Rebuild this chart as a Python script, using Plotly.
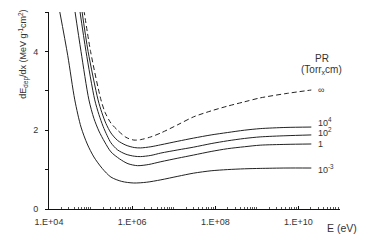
import plotly.graph_objects as go

# log10(E / eV) and dE/dx (MeV g^-1 cm^2)
logE_m3 = [4.26, 4.45, 4.62, 4.77, 4.92, 5.08, 5.28, 5.49, 5.75, 6.04, 6.35, 6.69, 7.1, 7.48, 7.9, 8.29, 8.7, 9.08, 9.7, 10.31]
val_m3 = [5.0, 3.9, 2.77, 2.08, 1.65, 1.32, 1.03, 0.81, 0.70, 0.66, 0.68, 0.74, 0.83, 0.91, 0.97, 1.00, 1.02, 1.03, 1.04, 1.04]

logE_1 = [4.62, 4.77, 4.96, 5.08, 5.2, 5.34, 5.49, 5.7, 5.9, 6.13, 6.4, 6.69, 7.1, 7.48, 7.9, 8.29, 8.7, 9.08, 9.7, 10.31]
val_1 = [5.05, 4.0, 2.77, 2.3, 1.98, 1.7, 1.45, 1.27, 1.15, 1.10, 1.13, 1.20, 1.29, 1.37, 1.46, 1.53, 1.58, 1.62, 1.64, 1.65]

logE_2 = [4.74, 4.89, 5.10, 5.2, 5.3, 5.4, 5.49, 5.65, 5.85, 6.05, 6.2, 6.45, 6.69, 7.1, 7.48, 7.9, 8.29, 8.7, 9.08, 9.7, 10.31]
val_2 = [5.05, 4.0, 2.77, 2.4, 2.1, 1.86, 1.68, 1.5, 1.39, 1.34, 1.33, 1.36, 1.42, 1.50, 1.57, 1.66, 1.73, 1.79, 1.83, 1.86, 1.88]

logE_4 = [4.79, 4.94, 5.18, 5.27, 5.37, 5.49, 5.65, 5.85, 6.05, 6.2, 6.45, 6.69, 7.1, 7.48, 7.9, 8.29, 8.7, 9.08, 9.7, 10.31]
val_4 = [5.05, 4.0, 2.77, 2.45, 2.17, 1.93, 1.74, 1.62, 1.56, 1.55, 1.58, 1.63, 1.72, 1.80, 1.88, 1.94, 2.00, 2.04, 2.07, 2.08]

logE_inf = [4.84, 5.0, 5.25, 5.35, 5.49, 5.65, 5.85, 6.04, 6.2, 6.45, 6.69, 7.1, 7.48, 7.9, 8.29, 8.7, 9.08, 9.7, 10.31]
val_inf = [5.05, 4.0, 2.77, 2.45, 2.18, 2.0, 1.82, 1.75, 1.76, 1.83, 1.93, 2.14, 2.34, 2.49, 2.61, 2.72, 2.82, 2.93, 3.02]

series = [
    ("10<sup>-3</sup>", logE_m3, val_m3, "solid", -1),
    ("1", logE_1, val_1, "solid", 0),
    ("10<sup>2</sup>", logE_2, val_2, "solid", 3),
    ("10<sup>4</sup>", logE_4, val_4, "solid", 5),
    ("∞", logE_inf, val_inf, "5px,3px", 0),
]

xtick_vals = [1e4, 1e6, 1e8, 1e10]
xtick_text = ["1.E+04", "1.E+06", "1.E+08", "1.E+10"]
ytick_vals = [0, 1, 2, 3, 4, 5]
ytick_text = ["0", "", "2", "", "4", ""]

FONT = "Liberation Sans, Arial, sans-serif"
TXT = "#333333"
LINE = "#222222"

fig = go.Figure()
annotations = []
for name, lx, vy, dash, yshift in series:
    ex = [10 ** v for v in lx]
    fig.add_trace(go.Scatter(
        x=ex, y=vy, mode="lines", name=name,
        line=dict(color=LINE, width=1, dash=dash, shape="spline", smoothing=0.8),
        showlegend=False, hoverinfo="skip",
    ))
    annotations.append(dict(
        x=lx[-1], y=vy[-1], xref="x", yref="y", text=name, showarrow=False,
        xanchor="left", yanchor="middle", xshift=5, yshift=yshift,
        font=dict(family=FONT, size=9, color=TXT),
    ))

annotations += [
    dict(x=0.938, y=0.765, xref="paper", yref="paper", text="PR", showarrow=False,
         xanchor="center", yanchor="middle", font=dict(family=FONT, size=10, color=TXT)),
    dict(x=0.938, y=0.705, xref="paper", yref="paper",
         text="(Torr<sub>x</sub>cm)", showarrow=False,
         xanchor="center", yanchor="middle", font=dict(family=FONT, size=10, color=TXT)),
    dict(x=0.948, y=-0.055, xref="paper", yref="paper", text="E (eV)", showarrow=False,
         xanchor="left", yanchor="top", font=dict(family=FONT, size=10.5, color=TXT)),
    dict(x=-0.087, y=0.787, xref="paper", yref="paper",
         text="dE<sub>dep</sub>/dx (MeV g<sup>-1</sup>cm<sup>2</sup>)", showarrow=False,
         textangle=-90, xanchor="center", yanchor="middle",
         font=dict(family=FONT, size=9, color=TXT)),
]

fig.update_layout(
    width=390, height=241,
    margin=dict(l=49, r=50, t=12, b=32),
    paper_bgcolor="white", plot_bgcolor="white",
    font=dict(family=FONT, size=9, color=TXT),
    annotations=annotations,
)
fig.update_xaxes(
    type="log", range=[4, 11], tickvals=xtick_vals, ticktext=xtick_text,
    showline=True, linecolor="#111111", linewidth=1, showgrid=False, zeroline=False,
    ticks="inside", ticklen=3, tickcolor="#111111", automargin=False,
    ticklabelstandoff=4,
    minor=dict(ticks="inside", ticklen=2, tickcolor="#555555", dtick="D1", showgrid=False),
    tickfont=dict(family=FONT, size=9, color=TXT),
)
fig.update_yaxes(
    range=[0, 5], tickvals=ytick_vals, ticktext=ytick_text,
    showline=True, linecolor="#111111", linewidth=1, showgrid=False, zeroline=False,
    ticks="outside", ticklen=3, tickcolor="#111111", automargin=False,
    ticklabelstandoff=5,
    tickfont=dict(family=FONT, size=9, color=TXT),
)

fig.write_html("out.html", config={"displayModeBar": False, "staticPlot": True},
               post_script="document.body.style.margin='0';")
